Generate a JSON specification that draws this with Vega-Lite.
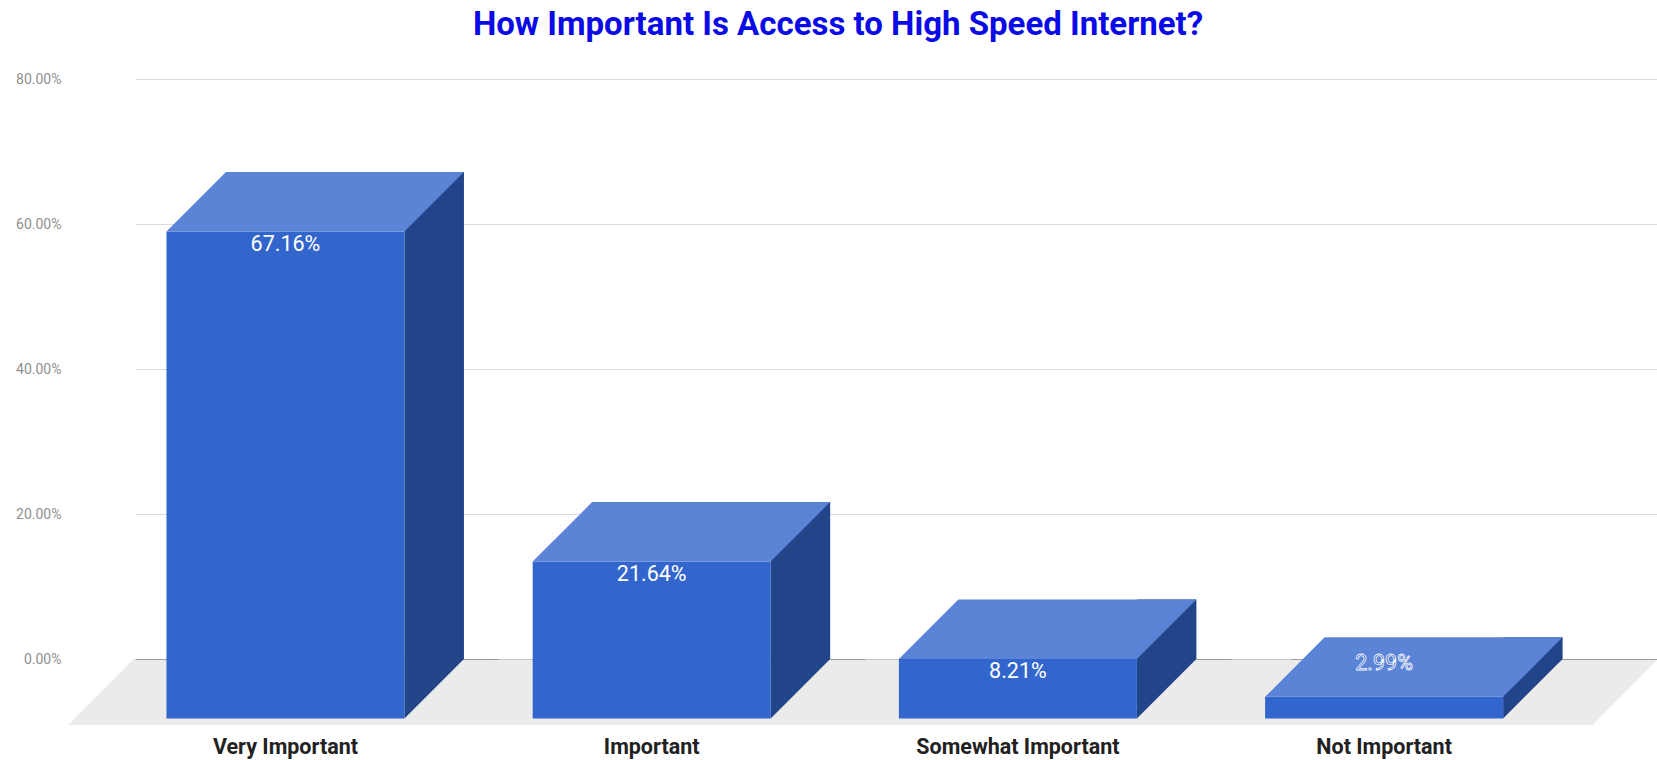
{
  "$schema": "https://vega.github.io/schema/vega-lite/v6.json",
  "width": 1522,
  "height": 580,
  "autosize": {"type": "none"},
  "padding": {"left": 135, "top": 79, "right": 0, "bottom": 101},
  "background": "white",
  "config": {"view": {"stroke": null}, "font": "Roboto"},
  "title": {
    "text": "How Important Is Access to High Speed Internet?",
    "font": "Roboto",
    "fontSize": 33,
    "fontWeight": "bold",
    "color": "#0a0ae6",
    "anchor": "middle",
    "dx": -58,
    "offset": 4,
    "baseline": "alphabetic"
  },
  "data": {
    "values": [
      {"response": "Very Important", "share": 0.6716},
      {"response": "Important", "share": 0.2164},
      {"response": "Somewhat Important", "share": 0.0821},
      {"response": "Not Important", "share": 0.0299}
    ]
  },
  "layer": [
    {
      "mark": {"type": "point", "shape": "M-212,0.5L214,0.5L149,66L-277,66Z", "size": 4, "filled": true, "opacity": 1, "color": "#ebebeb"},
      "encoding": {
        "x": {"field": "response", "type": "nominal", "sort": null},
        "y": {"datum": 0, "type": "quantitative"}
      }
    },
    {
      "mark": {"type": "bar", "width": 59.5, "xOffset": 89.25, "color": "#224489", "opacity": 1},
      "encoding": {
        "x": {
          "field": "response", "type": "nominal", "sort": null,
          "scale": {"paddingInner": 0, "paddingOuter": 0.078, "align": 0.47},
          "axis": {
            "title": null, "domain": false, "ticks": false, "tickSize": 0, "grid": false, "zindex": 0,
            "labelPadding": 94, "labelBaseline": "alphabetic", "labelAlign": "center", "labelOffset": -59.5,
            "labelFont": "Roboto", "labelFontSize": 21.5, "labelFontWeight": "bold", "labelLimit": 0,
            "labelColor": "#212121", "labelAngle": 0, "labelOverlap": false, "labelFlush": false
          }
        },
        "y": {
          "field": "share", "type": "quantitative",
          "scale": {"domain": [0, 0.8], "nice": false, "zero": true},
          "axis": {
            "title": null, "values": [0, 0.2, 0.4, 0.6, 0.8], "format": ".2%", "zindex": 0,
            "domain": false, "ticks": false, "tickSize": 0, "grid": true,
            "gridColor": {"condition": {"test": "datum.value === 0", "value": "#4d4d4d"}, "value": "#dadada"},
            "labelPadding": 74, "labelFont": "Roboto", "labelFontSize": 14, "labelColor": "#8f8f8f"
          }
        }
      }
    },
    {
      "mark": {"type": "point", "shape": "M59.5,0L59.5,59.5L119,0Z", "size": 4, "filled": true, "opacity": 1, "color": "#224489"},
      "encoding": {
        "x": {"field": "response", "type": "nominal", "sort": null},
        "y": {"datum": 0, "type": "quantitative"}
      }
    },
    {
      "mark": {"type": "bar", "width": 238, "xOffset": -59.5, "yOffset": 59.5, "y2Offset": 59.5, "color": "#3366cc", "opacity": 1},
      "encoding": {
        "x": {"field": "response", "type": "nominal", "sort": null},
        "y": {"field": "share", "type": "quantitative"}
      }
    },
    {
      "mark": {"type": "point", "shape": "M-178.5,59.5L59.5,59.5L119,0L-119,0Z", "size": 4, "filled": true, "opacity": 1, "color": "#5b84d6"},
      "encoding": {
        "x": {"field": "response", "type": "nominal", "sort": null},
        "y": {"field": "share", "type": "quantitative"}
      }
    },
    {
      "transform": [{"filter": "datum.share >= 0.05"}],
      "mark": {"type": "text", "dx": -59.5, "dy": 73, "font": "Roboto", "fontSize": 21.5, "color": "white", "align": "center", "baseline": "middle"},
      "encoding": {
        "x": {"field": "response", "type": "nominal", "sort": null},
        "y": {"field": "share", "type": "quantitative"},
        "text": {"field": "share", "type": "quantitative", "format": ".2%"}
      }
    },
    {
      "transform": [{"filter": "datum.share < 0.05"}],
      "mark": {"type": "text", "dx": -59.5, "dy": 27, "font": "Roboto", "fontSize": 21.5, "fill": "#2f5fc4", "stroke": "white", "strokeWidth": 0.8, "align": "center", "baseline": "middle"},
      "encoding": {
        "x": {"field": "response", "type": "nominal", "sort": null},
        "y": {"field": "share", "type": "quantitative"},
        "text": {"field": "share", "type": "quantitative", "format": ".2%"}
      }
    }
  ]
}
